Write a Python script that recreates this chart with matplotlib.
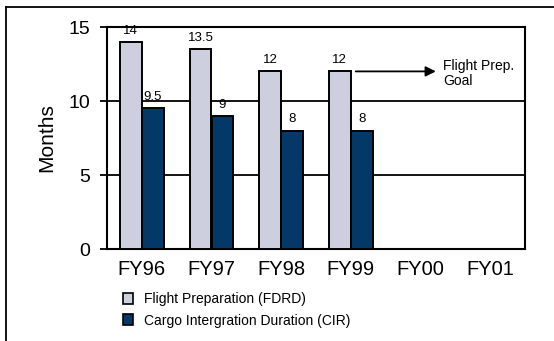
import matplotlib
matplotlib.use("Agg")
import matplotlib.pyplot as plt
from matplotlib.lines import Line2D
from matplotlib.patches import Patch
import numpy as np

plt.rcParams['font.family'] = ['Liberation Sans', 'DejaVu Sans']

years = ["FY96", "FY97", "FY98", "FY99", "FY00", "FY01"]
flight_prep = [14, 13.5, 12, 12]
flight_prep_labels = ["14", "13.5", "12", "12"]
cargo_integ = [9.5, 9, 8, 8]
cargo_integ_labels = ["9.5", "9", "8", "8"]
yticks = [0, 5, 10, 15]

gray = "#CDCFDF"
navy = "#033867"

fig = plt.figure(figsize=(5.54, 3.41), dpi=100)
ax = fig.add_axes([107 / 554, 1 - 249 / 341, 418 / 554, 222 / 341])

x_all = np.arange(len(years))
x = np.arange(len(flight_prep))
w = 0.315
off = 0.158

bars1 = ax.bar(x - off, flight_prep, width=w, color=gray, edgecolor="black", linewidth=1.4, zorder=3)
bars2 = ax.bar(x + off, cargo_integ, width=w, color=navy, edgecolor="black", linewidth=1.4, zorder=3)

for b, lab in zip(bars1, flight_prep_labels):
    ax.text(b.get_x() + b.get_width() / 2, b.get_height() + 0.35, lab,
            ha="center", va="bottom", fontsize=9.5, zorder=4)
for b, lab in zip(bars2, cargo_integ_labels):
    ax.text(b.get_x() + b.get_width() / 2, b.get_height() + 0.35, lab,
            ha="center", va="bottom", fontsize=9.5, zorder=4)

# gridlines at interior ticks
for yv in yticks[1:-1]:
    ax.axhline(yv, color="black", linewidth=1.3, zorder=1)

ax.set_xlim(-0.5, len(years) - 0.5)
ax.set_ylim(0, 15)
ax.set_xticks(x_all)
ax.set_xticklabels(years, fontsize=14.5)
ax.tick_params(axis="x", length=0, pad=8)
ax.set_yticks(yticks)
ax.tick_params(axis="y", labelsize=14, length=5, width=1.3, direction="out", pad=7)
ax.set_ylabel("Months", fontsize=15, labelpad=9)

for s in ax.spines.values():
    s.set_linewidth(1.5)
    s.set_color("black")

# goal arrow and note
goal = flight_prep[-1]
ax.annotate("", xy=(4.22, goal), xytext=(3.07, goal),
            arrowprops=dict(arrowstyle="-|>", color="black", lw=1.3,
                            mutation_scale=15, shrinkA=0, shrinkB=0))
ax.text(4.32, goal - 0.15, "Flight Prep.\nGoal", ha="left", va="center", fontsize=10,
        linespacing=1.05)

handles = [Patch(facecolor=gray, edgecolor="black", linewidth=1.2),
           Patch(facecolor=navy, edgecolor="black", linewidth=1.2)]
fig.legend(handles, ["Flight Preparation (FDRD)", "Cargo Intergration Duration (CIR)"],
           loc="upper left", bbox_to_anchor=(123 / 554, 1 - 292 / 341),
           frameon=False, fontsize=10, handlelength=0.75, handleheight=0.85,
           handletextpad=0.75, labelspacing=0.55, borderpad=0, borderaxespad=0)

# outer frame
fig.add_artist(Line2D([5.5 / 554, 5.5 / 554], [0, 1 - 7 / 341], transform=fig.transFigure,
                      color="black", linewidth=1.3))
fig.add_artist(Line2D([5.5 / 554, 1], [1 - 7 / 341, 1 - 7 / 341], transform=fig.transFigure,
                      color="black", linewidth=1.3))

fig.savefig("out.png", dpi=100)
